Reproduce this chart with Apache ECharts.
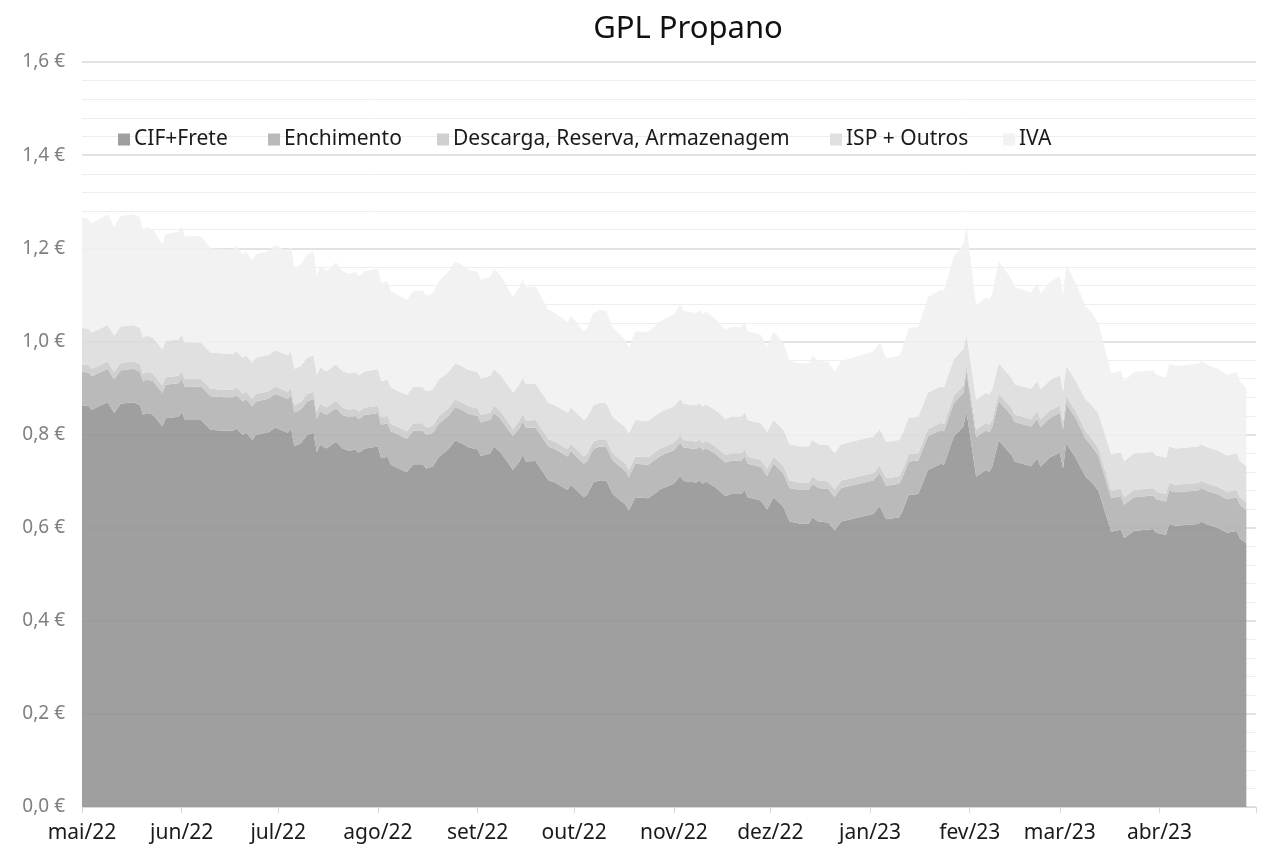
<!DOCTYPE html>
<html>
<head>
<meta charset="utf-8">
<title>GPL Propano</title>
<script src="https://cdn.jsdelivr.net/npm/echarts@6/dist/echarts.min.js"></script>
<style>
  html, body { margin: 0; padding: 0; background: #fff; }
  #gplChart { width: 1262px; height: 847px; }
</style>
</head>
<body>
<div id="gplChart"></div>
<script>
// datas das cotações
const dates = [
  '2022-05-01', '2022-05-03', '2022-05-04', '2022-05-09', '2022-05-11', '2022-05-13', '2022-05-17', '2022-05-19', '2022-05-20', '2022-05-21',
  '2022-05-23', '2022-05-26', '2022-05-27', '2022-05-31', '2022-06-01', '2022-06-02', '2022-06-07', '2022-06-10', '2022-06-14', '2022-06-17',
  '2022-06-18', '2022-06-20', '2022-06-21', '2022-06-23', '2022-06-24', '2022-06-28', '2022-06-30', '2022-07-04', '2022-07-05', '2022-07-06',
  '2022-07-08', '2022-07-10', '2022-07-12', '2022-07-13', '2022-07-14', '2022-07-16', '2022-07-19', '2022-07-21', '2022-07-23', '2022-07-25',
  '2022-07-26', '2022-07-28', '2022-08-01', '2022-08-02', '2022-08-04', '2022-08-05', '2022-08-10', '2022-08-12', '2022-08-15', '2022-08-16',
  '2022-08-18', '2022-08-20', '2022-08-22', '2022-08-23', '2022-08-25', '2022-08-27', '2022-08-29', '2022-09-01', '2022-09-02', '2022-09-05',
  '2022-09-06', '2022-09-08', '2022-09-12', '2022-09-14', '2022-09-15', '2022-09-16', '2022-09-19', '2022-09-23', '2022-09-25', '2022-09-29',
  '2022-09-30', '2022-10-04', '2022-10-05', '2022-10-07', '2022-10-09', '2022-10-11', '2022-10-13', '2022-10-17', '2022-10-18', '2022-10-20',
  '2022-10-24', '2022-10-26', '2022-10-28', '2022-11-01', '2022-11-03', '2022-11-04', '2022-11-08', '2022-11-09', '2022-11-10', '2022-11-11',
  '2022-11-14', '2022-11-17', '2022-11-19', '2022-11-22', '2022-11-23', '2022-11-24', '2022-11-28', '2022-11-30', '2022-12-02', '2022-12-05',
  '2022-12-07', '2022-12-10', '2022-12-13', '2022-12-14', '2022-12-16', '2022-12-19', '2022-12-21', '2022-12-23', '2022-12-29', '2023-01-02',
  '2023-01-04', '2023-01-06', '2023-01-10', '2023-01-11', '2023-01-13', '2023-01-16', '2023-01-19', '2023-01-23', '2023-01-24', '2023-01-27',
  '2023-01-30', '2023-01-31', '2023-02-03', '2023-02-06', '2023-02-07', '2023-02-08', '2023-02-10', '2023-02-14', '2023-02-15', '2023-02-20',
  '2023-02-22', '2023-02-23', '2023-02-26', '2023-03-01', '2023-03-02', '2023-03-03', '2023-03-06', '2023-03-09', '2023-03-11', '2023-03-13',
  '2023-03-17', '2023-03-20', '2023-03-21', '2023-03-24', '2023-03-30', '2023-03-31', '2023-04-03', '2023-04-04', '2023-04-06', '2023-04-13',
  '2023-04-14', '2023-04-16', '2023-04-19', '2023-04-22', '2023-04-25', '2023-04-26', '2023-04-28'
]

const cifFrete = [
  0.863, 0.861, 0.853, 0.869, 0.846, 0.866, 0.869, 0.863, 0.842, 0.846,
  0.843, 0.817, 0.835, 0.838, 0.848, 0.831, 0.831, 0.810, 0.808, 0.808,
  0.813, 0.799, 0.804, 0.788, 0.799, 0.805, 0.815, 0.804, 0.813, 0.775,
  0.781, 0.799, 0.804, 0.762, 0.778, 0.770, 0.785, 0.770, 0.765, 0.768,
  0.761, 0.770, 0.774, 0.749, 0.752, 0.735, 0.719, 0.736, 0.736, 0.727,
  0.731, 0.752, 0.763, 0.769, 0.787, 0.781, 0.773, 0.768, 0.754, 0.760,
  0.774, 0.763, 0.724, 0.742, 0.756, 0.742, 0.743, 0.702, 0.697, 0.681,
  0.692, 0.665, 0.670, 0.697, 0.702, 0.701, 0.672, 0.649, 0.636, 0.665,
  0.663, 0.673, 0.683, 0.694, 0.711, 0.700, 0.697, 0.702, 0.694, 0.699,
  0.686, 0.668, 0.672, 0.672, 0.681, 0.665, 0.658, 0.639, 0.665, 0.645,
  0.613, 0.609, 0.609, 0.622, 0.613, 0.611, 0.594, 0.613, 0.623, 0.629,
  0.646, 0.618, 0.622, 0.634, 0.670, 0.672, 0.724, 0.737, 0.735, 0.795,
  0.817, 0.849, 0.709, 0.724, 0.720, 0.731, 0.787, 0.756, 0.742, 0.732,
  0.749, 0.731, 0.751, 0.761, 0.727, 0.781, 0.749, 0.709, 0.697, 0.679,
  0.591, 0.596, 0.577, 0.593, 0.597, 0.589, 0.584, 0.608, 0.604, 0.608,
  0.613, 0.606, 0.600, 0.589, 0.593, 0.577, 0.566
]

const enchimento = [
  0.072, 0.072, 0.072, 0.072, 0.072, 0.072, 0.072, 0.072, 0.072, 0.072,
  0.072, 0.072, 0.072, 0.072, 0.072, 0.072, 0.072, 0.072, 0.072, 0.072,
  0.072, 0.072, 0.072, 0.072, 0.072, 0.072, 0.072, 0.072, 0.072, 0.072,
  0.072, 0.072, 0.072, 0.072, 0.072, 0.072, 0.072, 0.072, 0.072, 0.072,
  0.072, 0.072, 0.072, 0.072, 0.072, 0.072, 0.072, 0.072, 0.072, 0.072,
  0.072, 0.072, 0.072, 0.072, 0.072, 0.072, 0.072, 0.072, 0.072, 0.072,
  0.072, 0.072, 0.072, 0.072, 0.072, 0.072, 0.072, 0.072, 0.072, 0.072,
  0.072, 0.072, 0.072, 0.072, 0.072, 0.072, 0.072, 0.072, 0.072, 0.072,
  0.072, 0.072, 0.072, 0.072, 0.072, 0.072, 0.072, 0.072, 0.072, 0.072,
  0.072, 0.072, 0.072, 0.072, 0.072, 0.072, 0.072, 0.072, 0.072, 0.072,
  0.072, 0.072, 0.072, 0.072, 0.072, 0.072, 0.072, 0.072, 0.072, 0.072,
  0.072, 0.072, 0.072, 0.072, 0.072, 0.072, 0.072, 0.072, 0.072, 0.072,
  0.072, 0.085, 0.085, 0.085, 0.085, 0.085, 0.085, 0.085, 0.085, 0.085,
  0.085, 0.085, 0.085, 0.085, 0.085, 0.085, 0.085, 0.082, 0.078, 0.075,
  0.072, 0.072, 0.072, 0.072, 0.072, 0.072, 0.072, 0.072, 0.072, 0.072,
  0.072, 0.072, 0.072, 0.072, 0.072, 0.072, 0.072
]

const descarga = [
  0.016, 0.016, 0.016, 0.016, 0.016, 0.016, 0.016, 0.016, 0.016, 0.016,
  0.016, 0.016, 0.016, 0.016, 0.016, 0.016, 0.016, 0.016, 0.016, 0.016,
  0.016, 0.016, 0.016, 0.016, 0.016, 0.016, 0.016, 0.016, 0.016, 0.016,
  0.016, 0.016, 0.016, 0.016, 0.016, 0.016, 0.016, 0.016, 0.016, 0.016,
  0.016, 0.016, 0.016, 0.016, 0.016, 0.016, 0.016, 0.016, 0.016, 0.016,
  0.016, 0.016, 0.016, 0.016, 0.016, 0.016, 0.016, 0.016, 0.016, 0.016,
  0.016, 0.016, 0.016, 0.016, 0.016, 0.016, 0.016, 0.016, 0.016, 0.016,
  0.016, 0.016, 0.016, 0.016, 0.016, 0.016, 0.016, 0.016, 0.016, 0.016,
  0.016, 0.016, 0.016, 0.016, 0.016, 0.016, 0.016, 0.016, 0.016, 0.016,
  0.016, 0.016, 0.016, 0.016, 0.016, 0.016, 0.016, 0.016, 0.016, 0.016,
  0.016, 0.016, 0.016, 0.016, 0.016, 0.016, 0.016, 0.016, 0.016, 0.016,
  0.016, 0.016, 0.016, 0.016, 0.016, 0.016, 0.016, 0.016, 0.016, 0.016,
  0.016, 0.016, 0.016, 0.016, 0.016, 0.016, 0.016, 0.016, 0.016, 0.016,
  0.016, 0.016, 0.016, 0.016, 0.016, 0.016, 0.016, 0.016, 0.016, 0.016,
  0.016, 0.016, 0.016, 0.016, 0.016, 0.016, 0.016, 0.016, 0.016, 0.016,
  0.016, 0.016, 0.016, 0.016, 0.016, 0.016, 0.016
]

const ispOutros = [
  0.078, 0.078, 0.078, 0.078, 0.078, 0.078, 0.078, 0.078, 0.078, 0.078,
  0.078, 0.078, 0.078, 0.078, 0.078, 0.078, 0.078, 0.078, 0.078, 0.078,
  0.078, 0.078, 0.078, 0.078, 0.078, 0.078, 0.078, 0.078, 0.078, 0.078,
  0.078, 0.078, 0.078, 0.078, 0.078, 0.078, 0.078, 0.078, 0.078, 0.078,
  0.078, 0.078, 0.078, 0.078, 0.078, 0.078, 0.078, 0.078, 0.078, 0.078,
  0.078, 0.078, 0.078, 0.078, 0.078, 0.078, 0.078, 0.078, 0.078, 0.078,
  0.078, 0.078, 0.078, 0.078, 0.078, 0.078, 0.078, 0.078, 0.078, 0.078,
  0.078, 0.078, 0.078, 0.078, 0.078, 0.078, 0.078, 0.078, 0.078, 0.078,
  0.078, 0.078, 0.078, 0.078, 0.078, 0.078, 0.078, 0.078, 0.078, 0.078,
  0.078, 0.078, 0.078, 0.078, 0.078, 0.078, 0.078, 0.078, 0.078, 0.078,
  0.078, 0.078, 0.078, 0.078, 0.078, 0.078, 0.078, 0.078, 0.078, 0.078,
  0.078, 0.078, 0.078, 0.078, 0.078, 0.078, 0.078, 0.078, 0.078, 0.078,
  0.078, 0.065, 0.065, 0.065, 0.065, 0.065, 0.065, 0.065, 0.065, 0.065,
  0.065, 0.065, 0.065, 0.065, 0.065, 0.065, 0.065, 0.068, 0.072, 0.075,
  0.078, 0.078, 0.078, 0.078, 0.078, 0.078, 0.078, 0.078, 0.078, 0.078,
  0.078, 0.078, 0.078, 0.078, 0.078, 0.078, 0.078
]

const iva = [
  0.237, 0.236, 0.234, 0.238, 0.233, 0.237, 0.238, 0.237, 0.232, 0.233,
  0.232, 0.226, 0.230, 0.231, 0.233, 0.229, 0.229, 0.224, 0.224, 0.224,
  0.225, 0.222, 0.223, 0.219, 0.222, 0.223, 0.226, 0.223, 0.225, 0.216,
  0.218, 0.222, 0.223, 0.213, 0.217, 0.215, 0.219, 0.215, 0.214, 0.215,
  0.213, 0.215, 0.216, 0.210, 0.211, 0.207, 0.204, 0.207, 0.207, 0.205,
  0.206, 0.211, 0.214, 0.215, 0.219, 0.218, 0.216, 0.215, 0.212, 0.213,
  0.216, 0.214, 0.205, 0.209, 0.212, 0.209, 0.209, 0.200, 0.198, 0.195,
  0.197, 0.191, 0.192, 0.198, 0.200, 0.199, 0.193, 0.187, 0.184, 0.191,
  0.191, 0.193, 0.195, 0.198, 0.202, 0.199, 0.198, 0.200, 0.198, 0.199,
  0.196, 0.192, 0.193, 0.193, 0.195, 0.191, 0.190, 0.185, 0.191, 0.187,
  0.179, 0.178, 0.178, 0.181, 0.179, 0.179, 0.175, 0.179, 0.181, 0.183,
  0.187, 0.180, 0.181, 0.184, 0.192, 0.193, 0.205, 0.208, 0.207, 0.221,
  0.226, 0.233, 0.201, 0.205, 0.204, 0.206, 0.219, 0.212, 0.209, 0.207,
  0.210, 0.206, 0.211, 0.213, 0.205, 0.218, 0.210, 0.201, 0.198, 0.194,
  0.174, 0.175, 0.171, 0.175, 0.175, 0.174, 0.172, 0.178, 0.177, 0.178,
  0.179, 0.178, 0.176, 0.174, 0.175, 0.171, 0.168
]

const seriesNames = ['CIF+Frete', 'Enchimento', 'Descarga, Reserva, Armazenagem', 'ISP + Outros', 'IVA']
const monthNames = ['jan', 'fev', 'mar', 'abr', 'mai', 'jun', 'jul', 'ago', 'set', 'out', 'nov', 'dez']

const fontFamily = '"Noto Sans", sans-serif'
const colors = ['rgba(149,149,149,0.9)', 'rgba(178,178,178,0.9)', 'rgba(203,203,203,0.9)', 'rgba(221,221,221,0.9)', 'rgba(241,241,241,0.9)']
const legendLeft = [113, 263, 432, 825, 998]
const axisEnd = new Date(2023, 4, 1).getTime()

let myChart = echarts.init(document.getElementById('gplChart'))

const values = [cifFrete, enchimento, descarga, ispOutros, iva]

let option = {
  animation: false,
  textStyle: { fontFamily: fontFamily },
  title: {
    text: 'GPL Propano',
    left: 683,
    textAlign: 'center',
    top: 9,
    textStyle: { fontFamily: fontFamily, fontSize: 31, fontWeight: 'normal', color: '#111' }
  },
  // uma legenda por série para manter as posições do original
  legend: seriesNames.map((name, i) => ({
    data: [name],
    left: legendLeft[i],
    top: 124,
    icon: 'rect',
    itemWidth: 12,
    itemHeight: 12,
    itemGap: 0,
    textStyle: { fontFamily: fontFamily, fontSize: 21, color: '#1a1a1a', padding: [0, 0, 0, -1] }
  })),
  grid: {
    left: 82,
    right: 6,
    top: 62,
    bottom: 40,
    containLabel: false,
    outerBoundsMode: 'none'
  },
  xAxis: {
    type: 'time',
    min: '2022-05-01',
    max: '2023-05-01',
    splitNumber: 12,
    minInterval: 3600 * 24 * 1000 * 28,
    maxInterval: 3600 * 24 * 1000 * 31,
    axisLine: { show: true, lineStyle: { color: '#d9d9d9', width: 1 } },
    axisTick: { show: true, length: 6, lineStyle: { color: '#d9d9d9' } },
    splitLine: { show: false },
    axisLabel: {
      color: '#1a1a1a',
      fontSize: 21,
      margin: 16,
      showMaxLabel: false,
      formatter: (value) => {
        if (value >= axisEnd) {
          return ''
        }
        let d = new Date(value)
        return monthNames[d.getMonth()] + '/' + String(d.getFullYear()).slice(2)
      }
    }
  },
  yAxis: {
    type: 'value',
    min: 0,
    max: 1.6,
    interval: 0.2,
    axisLine: { show: false },
    axisTick: { show: false },
    axisLabel: {
      color: '#808080',
      fontSize: 19,
      margin: 17,
      formatter: (v) => v.toFixed(1).replace('.', ',') + ' €'
    },
    splitLine: { show: true, lineStyle: { color: '#d9d9d9', width: 1.5 } },
    minorTick: { show: false, splitNumber: 5 },
    minorSplitLine: { show: true, lineStyle: { color: '#eeeeee', width: 1 } }
  },
  series: seriesNames.map((name, i) => ({
    name: name,
    type: 'line',
    stack: 'total',
    showSymbol: false,
    symbol: 'none',
    color: colors[i],
    lineStyle: { width: 0 },
    areaStyle: { color: colors[i], opacity: 1 },
    data: dates.map((d, k) => [d, values[i][k]])
  }))
}

myChart.setOption(option)
</script>
</body>
</html>
